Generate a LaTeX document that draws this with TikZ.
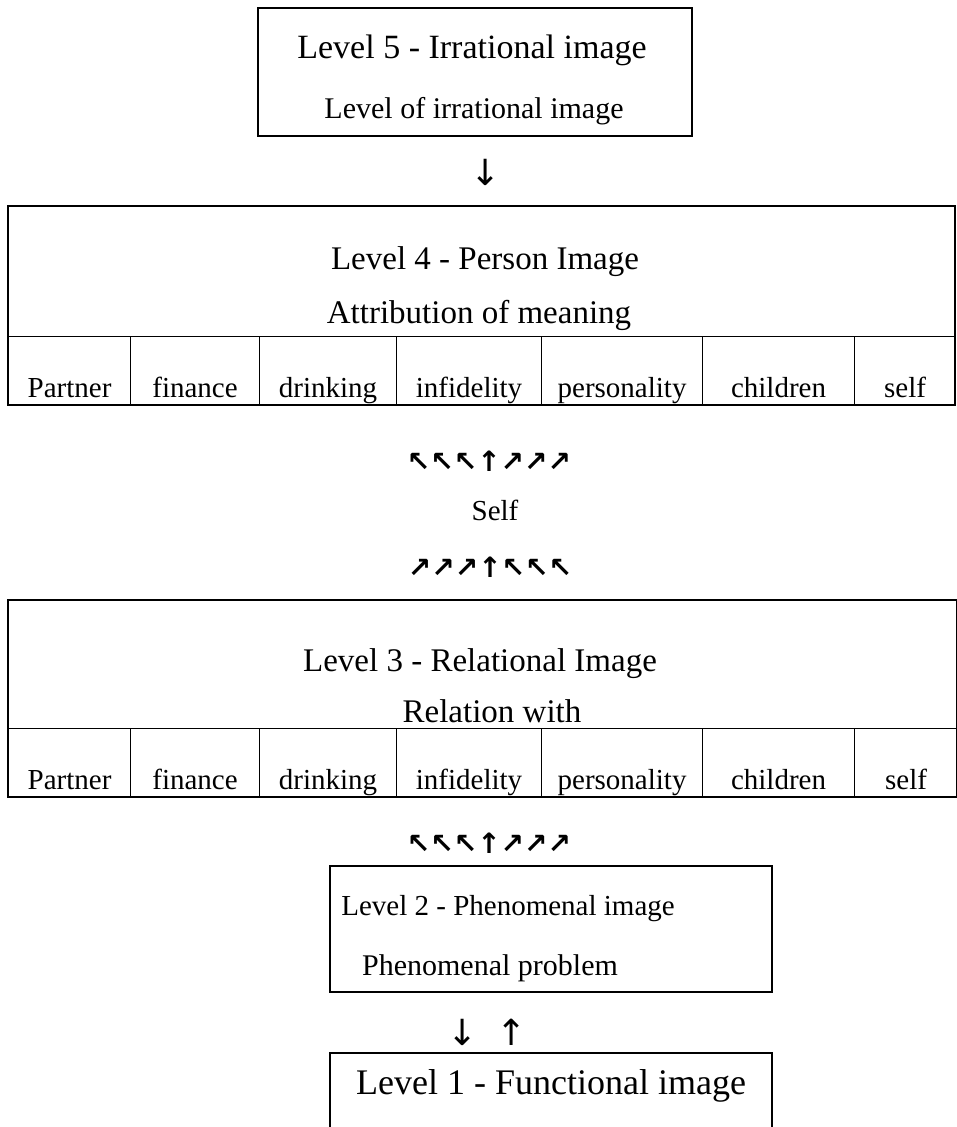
\documentclass[tikz,border=0pt]{standalone}
\usepackage{fontspec}
\setmainfont{Liberation Serif}
\newfontfamily\arrowfont{DejaVu Sans}

\begin{document}
\begin{tikzpicture}[x=1pt,y=-1pt,
    levelbox/.style={draw,line width=1.2pt,inner sep=0pt},
    cell/.style={draw,line width=1.1pt,inner sep=0pt,anchor=south west,
      text height=61pt,text depth=7pt,font=\fontsize{29}{31}\selectfont},
    heading/.style={anchor=base,inner sep=0pt,font=\fontsize{33}{36}\selectfont},
    glyphrow/.style={anchor=center,inner sep=0pt,font=\arrowfont\bfseries\fontsize{28}{30}\selectfont},
    glyph/.style={anchor=center,inner sep=0pt,font=\arrowfont\fontsize{36}{38}\selectfont}]

      \useasboundingbox (0,0) rectangle (957,1127);

      % level 5
      \node[levelbox,minimum width=434pt,minimum height=128pt] (l5) at (475,72) {};
      \node[heading,font=\fontsize{34}{36}\selectfont] (l5title) at (472,58) {Level 5 - Irrational image};
      \node[heading,font=\fontsize{30}{32}\selectfont] (l5text) at (474,118) {Level of irrational image};

      \node[glyph] (down5) at (486,172) {↓};

      % level 4
      \node[levelbox,minimum width=947pt,minimum height=199pt] (l4) at (481.5,305.5) {};
      \node[heading] (l4title) at (485,269) {Level 4 - Person Image};
      \node[heading] (l4text) at (479,323) {Attribution of meaning};

      \begin{scope}[every node/.style={cell}]
        \node[minimum width=122pt] (partner4)     at (8,405)   {Partner};
        \node[minimum width=129pt] (finance4)     at (130,405) {finance};
        \node[minimum width=137pt] (drinking4)    at (259,405) {drinking};
        \node[minimum width=145pt] (infidelity4)  at (396,405) {infidelity};
        \node[minimum width=161pt] (personality4) at (541,405) {personality};
        \node[minimum width=152pt] (children4)    at (702,405) {children};
        \node[minimum width=101pt] (self4)        at (854,405) {self};
      \end{scope}

      \node[glyphrow] (up4) at (489,461) {↖↖↖↑↗↗↗};
      \node[heading,font=\fontsize{29}{31}\selectfont] (self) at (495,520) {Self};
      \node[glyphrow] (up3) at (490,567) {↗↗↗↑↖↖↖};

      % level 3
      \node[levelbox,minimum width=949pt,minimum height=197pt] (l3) at (482.5,698.5) {};
      \node[heading] (l3title) at (480,671) {Level 3 - Relational Image};
      \node[heading] (l3text) at (492,722) {Relation with};

      \begin{scope}[every node/.style={cell}]
        \node[minimum width=122pt] (partner3)     at (8,797)   {Partner};
        \node[minimum width=129pt] (finance3)     at (130,797) {finance};
        \node[minimum width=137pt] (drinking3)    at (259,797) {drinking};
        \node[minimum width=145pt] (infidelity3)  at (396,797) {infidelity};
        \node[minimum width=161pt] (personality3) at (541,797) {personality};
        \node[minimum width=152pt] (children3)    at (702,797) {children};
        \node[minimum width=103pt] (self3)        at (854,797) {self};
      \end{scope}

      \node[glyphrow] (up2) at (489,843) {↖↖↖↑↗↗↗};

      % level 2
      \node[levelbox,minimum width=442pt,minimum height=126pt] (l2) at (551,929) {};
      \node[heading,font=\fontsize{29}{31}\selectfont] (l2title) at (508,915) {Level 2 - Phenomenal image};
      \node[heading,font=\fontsize{30}{32}\selectfont] (l2text) at (490,975) {Phenomenal problem};

      \node[glyph] (down2) at (463,1032) {↓};
      \node[glyph] (up1) at (512,1032) {↑};

      % level 1
      \node[levelbox,minimum width=442pt,minimum height=90pt] (l1) at (551,1098) {};
      \node[heading,font=\fontsize{36}{38}\selectfont] (l1title) at (551,1094) {Level 1 - Functional image};

    \end{tikzpicture}
\end{document}
